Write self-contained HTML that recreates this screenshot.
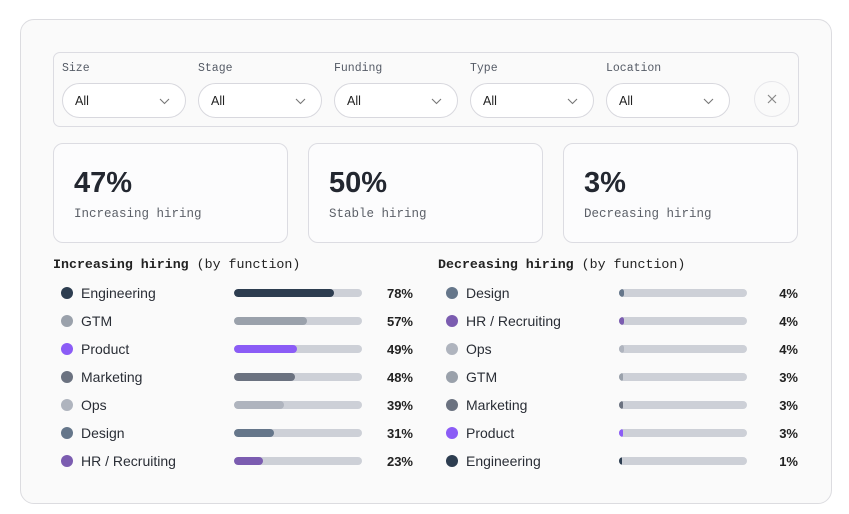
<!DOCTYPE html>
<html><head><meta charset="utf-8"><style>
*{box-sizing:border-box;margin:0;padding:0}
body{width:849px;height:514px;background:#fff;position:relative;font-family:"Liberation Sans",sans-serif;overflow:hidden}
.a{position:absolute}
.card{left:20px;top:19px;width:812px;height:485px;border:1px solid #dcdce0;border-radius:14px;background:#fafafa}
.filt{left:53px;top:52px;width:746px;height:75px;border:1px solid #dcdce2;border-radius:7px}
.lab{font-family:"Liberation Mono",monospace;font-size:11.5px;color:#555b66}
.sel{width:124px;height:35px;border:1px solid #d8d8de;border-radius:18px;background:#fff;font-size:12.5px;color:#222;padding:10px 0 0 12px}
.sel svg{position:absolute;right:15px;top:14px}
.stat{width:235px;height:100px;border:1px solid #dcdce2;border-radius:10px;background:#fcfcfd}
.num{font-size:29px;font-weight:bold;color:#232730;position:absolute;left:20px;top:23px}
.sl{font-family:"Liberation Mono",monospace;font-size:12.5px;color:#5c6068;position:absolute;left:20px;top:63px}
.h{font-family:"Liberation Mono",monospace;font-size:13.3px;color:#222}
.dot{width:12px;height:12px;border-radius:6px}
.rl{font-size:14px;color:#2a2e36}
.tr{height:8px;width:128px;border-radius:4px;background:#cdd0d7;overflow:hidden}
.tr div{height:8px;border-radius:4px}
.pc{font-size:13px;font-weight:bold;color:#222;text-align:right;width:50px}
</style></head><body>
<div class="a card"></div>
<div class="a filt"></div>
<div class="a lab" style="left:62px;top:62px">Size</div>
<div class="a lab" style="left:198px;top:62px">Stage</div>
<div class="a lab" style="left:334px;top:62px">Funding</div>
<div class="a lab" style="left:470px;top:62px">Type</div>
<div class="a lab" style="left:606px;top:62px">Location</div>
<div class="a sel" style="left:62px;top:83px">All<svg width="11" height="7"><path d="M1 1l4.5 4.5 4.5-4.5" fill="none" stroke="#777" stroke-width="1.1"/></svg></div>
<div class="a sel" style="left:198px;top:83px">All<svg width="11" height="7"><path d="M1 1l4.5 4.5 4.5-4.5" fill="none" stroke="#777" stroke-width="1.1"/></svg></div>
<div class="a sel" style="left:334px;top:83px">All<svg width="11" height="7"><path d="M1 1l4.5 4.5 4.5-4.5" fill="none" stroke="#777" stroke-width="1.1"/></svg></div>
<div class="a sel" style="left:470px;top:83px">All<svg width="11" height="7"><path d="M1 1l4.5 4.5 4.5-4.5" fill="none" stroke="#777" stroke-width="1.1"/></svg></div>
<div class="a sel" style="left:606px;top:83px">All<svg width="11" height="7"><path d="M1 1l4.5 4.5 4.5-4.5" fill="none" stroke="#777" stroke-width="1.1"/></svg></div>
<div class="a" style="left:754px;top:81px;width:36px;height:36px;border:1px solid #e6e6ea;border-radius:18px"><svg width="36" height="36" style="position:absolute;left:-1px;top:-1px"><path d="M14 14l8 8M22 14l-8 8" stroke="#888" stroke-width="1.2"/></svg></div>
<div class="a stat" style="left:53px;top:143px"><div class="num">47%</div><div class="sl">Increasing hiring</div></div>
<div class="a stat" style="left:308px;top:143px"><div class="num">50%</div><div class="sl">Stable hiring</div></div>
<div class="a stat" style="left:563px;top:143px"><div class="num">3%</div><div class="sl">Decreasing hiring</div></div>
<div class="a h" style="left:53px;top:257px"><b>Increasing hiring</b> (by function)</div>
<div class="a h" style="left:438px;top:257px"><b>Decreasing hiring</b> (by function)</div>
<div id="rows"></div>
<script>
var C={Engineering:"#2d3d50",GTM:"#9aa1ab",Product:"#8b5cf6",Marketing:"#6b7280",Ops:"#afb4be",Design:"#65768a","HR / Recruiting":"#7b5cb0"};
var L=[["Engineering",78],["GTM",57],["Product",49],["Marketing",48],["Ops",39],["Design",31],["HR / Recruiting",23]];
var R=[["Design",4],["HR / Recruiting",4],["Ops",4],["GTM",3],["Marketing",3],["Product",3],["Engineering",1]];
var h="";
function col(a,x){a.forEach(function(r,i){var y=293+i*28;
h+='<div class="a dot" style="left:'+(x)+'px;top:'+(y-6)+'px;background:'+C[r[0]]+'"></div>';
h+='<div class="a rl" style="left:'+(x+20)+'px;top:'+(y-8)+'px">'+r[0]+'</div>';
h+='<div class="a tr" style="left:'+(x+173)+'px;top:'+(y-4)+'px"><div style="width:'+Math.max(3,r[1]*1.28)+'px;background:'+C[r[0]]+'"></div></div>';
h+='<div class="a pc" style="left:'+(x+302)+'px;top:'+(y-7)+'px">'+r[1]+'%</div>';});}
col(L,61);col(R,446);
document.getElementById("rows").innerHTML=h;
</script>
</body></html>
